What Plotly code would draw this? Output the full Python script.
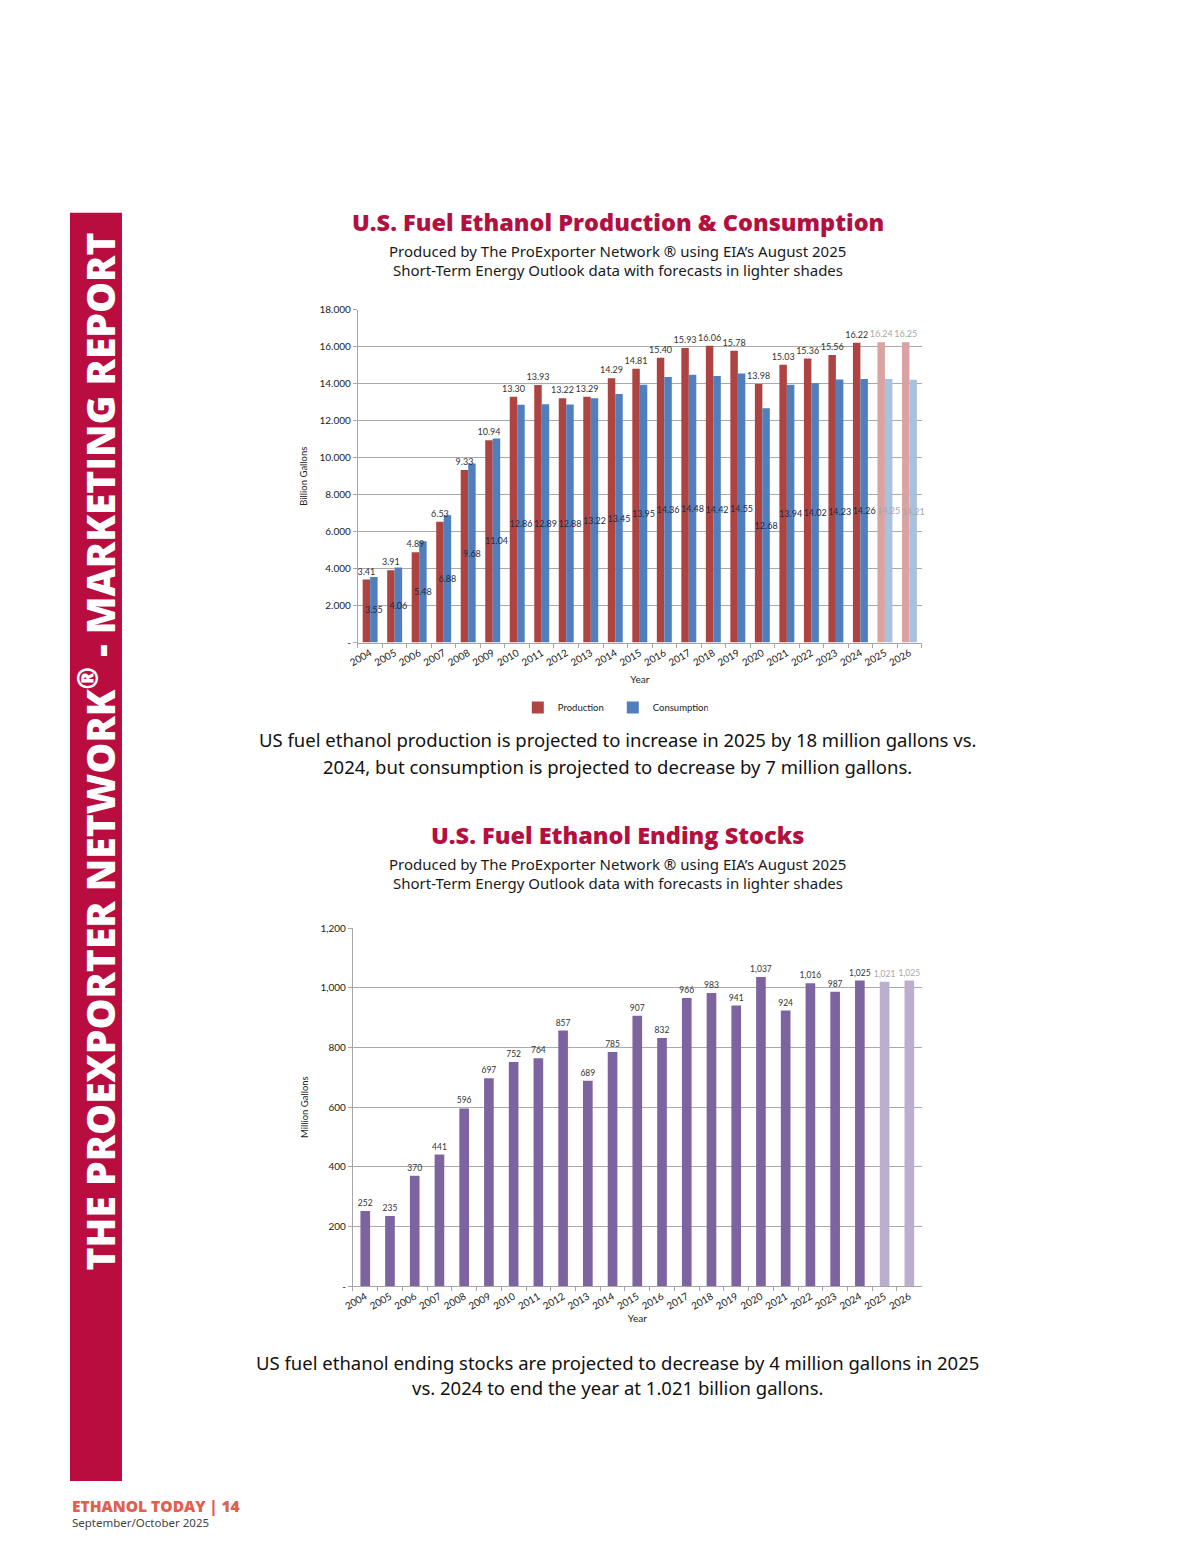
import plotly.graph_objects as go

years = [str(y) for y in range(2004, 2027)]
production = [3.41, 3.91, 4.89, 6.53, 9.33, 10.94, 13.30, 13.93, 13.22, 13.29, 14.29, 14.81,
              15.40, 15.93, 16.06, 15.78, 13.98, 15.03, 15.36, 15.56, 16.22, 16.24, 16.25]
consumption = [3.55, 4.06, 5.48, 6.88, 9.68, 11.04, 12.86, 12.89, 12.88, 13.22, 13.45, 13.95,
               14.36, 14.48, 14.42, 14.55, 12.68, 13.94, 14.02, 14.23, 14.26, 14.25, 14.21]
stocks = [252, 235, 370, 441, 596, 697, 752, 764, 857, 689, 785, 907, 832, 966, 983, 941,
          1037, 924, 1016, 987, 1025, 1021, 1025]
forecast = [False] * 21 + [True, True]

top_ticks = [0, 2, 4, 6, 8, 10, 12, 14, 16, 18]
top_ticktext = ["-", "2.000", "4.000", "6.000", "8.000", "10.000", "12.000", "14.000", "16.000", "18.000"]
bot_ticks = [0, 200, 400, 600, 800, 1000, 1200]
bot_ticktext = ["-", "200", "400", "600", "800", "1,000", "1,200"]

W, H = 1200, 1553
# empirical correction for how the page is photographed
SX, OX, SY, OY = 0.992, 18.0, 0.993, 14.0
def px(x): return ((x - OX) / SX) / W
def py(y): return 1 - ((y - OY) / SY) / H

CH_FONT = "Lato, 'Open Sans', sans-serif"
TXT_FONT = "'Noto Sans', 'Open Sans', sans-serif"
HEAVY_FONT = "'Open Sans', Lato, sans-serif"
CRIMSON = "#B3103F"

prod_col = ["#D9A3A2" if f else "#AE4441" for f in forecast]
cons_col = ["#A9C1DF" if f else "#4F7FBC" for f in forecast]
prod_txt = ["#A8A8A8" if f else "#333333" for f in forecast]
cons_txt = ["#A8A8A8" if f else "#1F2A44" for f in forecast]
stock_col = ["#BBAECF" if f else "#7E63A1" for f in forecast]
stock_txt = ["#A8A8A8" if f else "#333333" for f in forecast]

BW = 0.305
CLEAR = "rgba(0,0,0,0)"
fig = go.Figure()

# bars (no labels)
fig.add_trace(go.Bar(x=years, y=production, name="Production", width=BW, offset=-BW,
                     marker=dict(color=prod_col, line=dict(width=0)), xaxis="x", yaxis="y"))
fig.add_trace(go.Bar(x=years, y=consumption, name="Consumption", width=BW, offset=0,
                     marker=dict(color=cons_col, line=dict(width=0)), xaxis="x", yaxis="y"))
# labels drawn on top of all bars
fig.add_trace(go.Bar(x=years, y=production, showlegend=False, width=BW, offset=-BW,
                     marker=dict(color=CLEAR, line=dict(width=0)), hoverinfo="skip",
                     texttemplate="%{y:.2f}", textposition="outside", textangle=0, constraintext="none",
                     cliponaxis=False, textfont=dict(size=9, color=prod_txt, family=CH_FONT),
                     xaxis="x", yaxis="y"))
fig.add_trace(go.Bar(x=years, y=consumption, showlegend=False, width=BW, offset=0,
                     marker=dict(color=CLEAR, line=dict(width=0)), hoverinfo="skip",
                     texttemplate="%{y:.2f}", textposition="inside", insidetextanchor="middle",
                     textangle=0, constraintext="none", cliponaxis=False,
                     insidetextfont=dict(size=9, color=cons_txt, family=CH_FONT),
                     textfont=dict(size=9, color=cons_txt, family=CH_FONT),
                     xaxis="x", yaxis="y"))
fig.add_trace(go.Bar(
    x=years, y=stocks, name="Stocks", showlegend=False, width=0.39,
    marker=dict(color=stock_col, line=dict(width=0)),
    texttemplate="%{y:,}", textposition="outside", textangle=0, constraintext="none",
    cliponaxis=False, textfont=dict(size=8.5, color=stock_txt, family=CH_FONT),
    xaxis="x2", yaxis="y2"))

axis_common = dict(showline=True, linecolor="#A6A6A6", linewidth=1,
                   tickfont=dict(family=CH_FONT, size=10, color="#222222"))

fig.update_layout(
    width=W, height=H, margin=dict(l=0, r=0, t=0, b=0),
    paper_bgcolor="white", plot_bgcolor="white",
    barmode="overlay",
    font=dict(family=CH_FONT, color="#222222"),
    showlegend=True,
    legend=dict(orientation="h", x=px(613), xanchor="center", y=py(708), yanchor="middle",
                font=dict(size=9.5, family=CH_FONT, color="#222222"),
                itemwidth=30, entrywidth=50, tracegroupgap=0, bgcolor="rgba(0,0,0,0)"),
    xaxis=dict(domain=[px(358), px(922)], anchor="y", tickangle=-30,
               ticks="outside", ticklen=4, tickcolor="#A6A6A6", tickson="boundaries",
               title=dict(text="Year", font=dict(size=10, family=CH_FONT), standoff=8),
               **axis_common),
    yaxis=dict(domain=[py(643), py(310)], anchor="x", range=[0, 18],
               tickvals=top_ticks, ticktext=top_ticktext,
               ticks="outside", ticklen=4, tickcolor="#A6A6A6",
               showgrid=True, gridcolor="#A9A9A9", gridwidth=1, zeroline=False,
               title=dict(text="Billion Gallons", font=dict(size=9.5, family=CH_FONT), standoff=10),
               **axis_common),
    xaxis2=dict(domain=[px(353), px(922)], anchor="y2", tickangle=-30,
                ticks="outside", ticklen=4, tickcolor="#A6A6A6", tickson="boundaries",
                title=dict(text="Year", font=dict(size=10, family=CH_FONT), standoff=0),
                **axis_common),
    yaxis2=dict(domain=[py(1287), py(929)], anchor="x2", range=[0, 1200],
                tickvals=bot_ticks, ticktext=bot_ticktext,
                ticks="outside", ticklen=4, tickcolor="#A6A6A6",
                showgrid=True, gridcolor="#A9A9A9", gridwidth=1, zeroline=False,
                title=dict(text="Million Gallons", font=dict(size=9.5, family=CH_FONT), standoff=10),
                **axis_common),
)

# sidebar
fig.add_shape(type="rect", xref="paper", yref="paper", x0=px(70), x1=px(122), y0=py(1482), y1=py(213),
              fillcolor="#B80D3E", line=dict(width=0), layer="below")

ann = []
ann.append(dict(text="THE PROEXPORTER NETWORK<sup>®</sup> - MARKETING REPORT", x=px(98), y=py(752),
                textangle=-90, font=dict(family=HEAVY_FONT, size=39, color="white", weight=800)))

def title_block(y_title, title, y_sub1, y_sub2):
    ann.append(dict(text=title, x=px(618), y=py(y_title),
                    font=dict(family=HEAVY_FONT, size=23.5, color=CRIMSON, weight=800)))
    ann.append(dict(text="Produced by The ProExporter Network ® using EIA’s August 2025", x=px(618), y=py(y_sub1),
                    font=dict(family=TXT_FONT, size=15, color="#1a1a1a")))
    ann.append(dict(text="Short-Term Energy Outlook data with forecasts in lighter shades", x=px(618), y=py(y_sub2),
                    font=dict(family=TXT_FONT, size=15, color="#1a1a1a")))

title_block(222, "U.S. Fuel Ethanol Production & Consumption", 251, 270)
title_block(836, "U.S. Fuel Ethanol Ending Stocks", 865, 884)

for txt, y in [("US fuel ethanol production is projected to increase in 2025 by 18 million gallons vs.", 740),
               ("2024, but consumption is projected to decrease by 7 million gallons.", 767),
               ("US fuel ethanol ending stocks are projected to decrease by 4 million gallons in 2025", 1363),
               ("vs. 2024 to end the year at 1.021 billion gallons.", 1389)]:
    ann.append(dict(text=txt, x=px(618), y=py(y), font=dict(family=TXT_FONT, size=18.5, color="#111111")))

ann.append(dict(text="ETHANOL TODAY | 14", x=px(70), y=py(1507), xanchor="left",
                font=dict(family=HEAVY_FONT, size=15.5, color="#E0604E", weight=800)))
ann.append(dict(text="September/October 2025", x=px(70), y=py(1524), xanchor="left",
                font=dict(family=TXT_FONT, size=11.5, color="#444444")))

for a in ann:
    a.setdefault("xanchor", "center")
    a.update(xref="paper", yref="paper", yanchor="middle", showarrow=False)
    fig.add_annotation(**a)

fig.write_html("out.html")
